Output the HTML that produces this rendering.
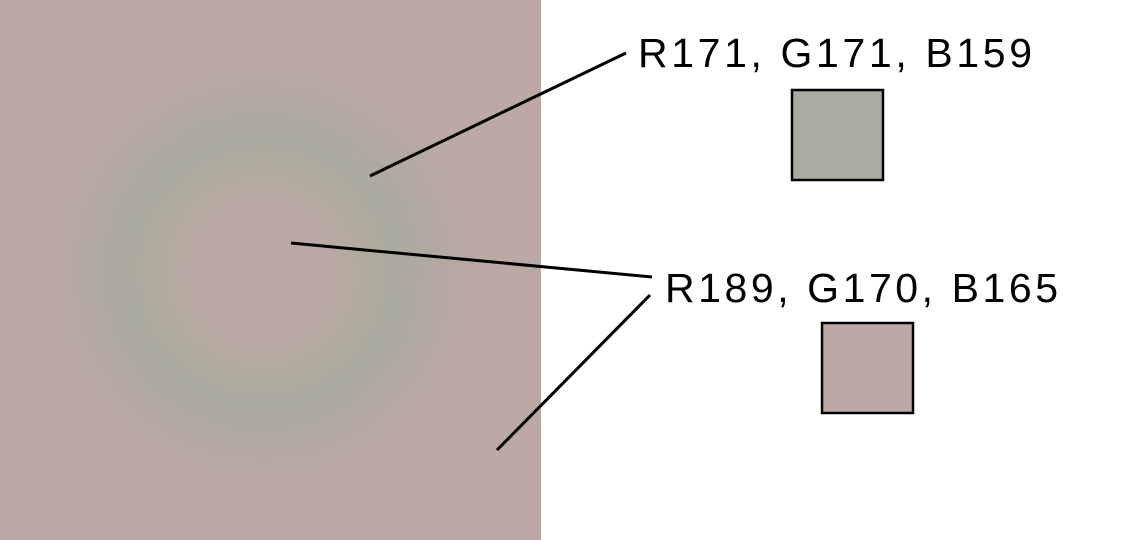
<!DOCTYPE html>
<html><head><meta charset="utf-8"><style>
html,body{margin:0;padding:0;background:#fff;width:1125px;height:540px;overflow:hidden}
</style></head><body>
<svg width="1125" height="540" viewBox="0 0 1125 540" xmlns="http://www.w3.org/2000/svg">
<defs>
<radialGradient id="g" cx="262" cy="272" r="230" gradientUnits="userSpaceOnUse">
<stop offset="0" stop-color="#bda9a4"/>
<stop offset="0.3" stop-color="#bba9a3"/>
<stop offset="0.45" stop-color="#b1aa9f"/>
<stop offset="0.58" stop-color="#aaaa9e"/>
<stop offset="0.7" stop-color="#afa9a0"/>
<stop offset="0.85" stop-color="#b8a8a2"/>
<stop offset="1" stop-color="#bca9a4"/>
</radialGradient>
</defs>
<rect x="0" y="0" width="541" height="540" fill="#bca9a4"/>
<rect x="0" y="0" width="541" height="540" fill="url(#g)"/>
<g stroke="#000" stroke-width="3" fill="none">
<line x1="626" y1="53" x2="370" y2="176"/>
<line x1="291" y1="243" x2="652" y2="277"/>
<line x1="650" y1="295" x2="497" y2="450"/>
</g>
<rect x="792" y="90" width="91" height="90" fill="#abab9f" stroke="#000" stroke-width="2.5"/>
<rect x="822" y="323" width="91" height="90" fill="#bda9a4" stroke="#000" stroke-width="2.5"/>
<g font-family="Liberation Sans, Arial, sans-serif" font-size="41" fill="#000">
<text x="638" y="67" textLength="394" lengthAdjust="spacing">R171, G171, B159</text>
<text x="665" y="302" textLength="393" lengthAdjust="spacing">R189, G170, B165</text>
</g>
</svg>
</body></html>
